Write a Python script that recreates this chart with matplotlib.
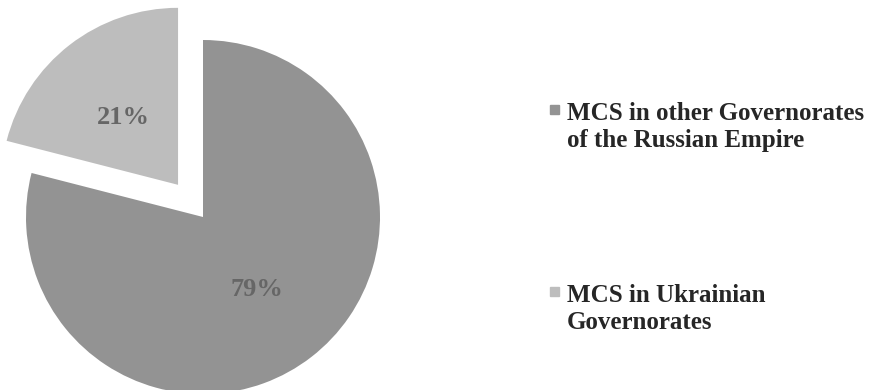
import matplotlib
matplotlib.use("Agg")
import matplotlib.pyplot as plt
from matplotlib.patches import Rectangle

# Data
labels = ["MCS in other Governorates\nof the Russian Empire",
          "MCS in Ukrainian\nGovernorates"]
shares = [79, 21]
colors = ["#939393", "#bdbdbd"]

plt.rcParams["font.family"] = ["Liberation Serif", "DejaVu Serif"]

W, H = 885, 390
fig = plt.figure(figsize=(W / 100, H / 100), dpi=100)
ax = fig.add_axes([0, 0, 1, 1])

# pie centre / radius in pixels
cx, cy, r = 203, 390 - 217, 177

ax.pie(shares, colors=colors, startangle=90, counterclock=False,
       explode=[0, 0.23], autopct="%d%%", pctdistance=0.5,
       wedgeprops=dict(linewidth=0),
       textprops=dict(fontsize=19, fontweight="bold", color="#666666",
                      va="center_baseline"))
ax.set_xlim(-cx / r, (W - cx) / r)
ax.set_ylim(-cy / r, (H - cy) / r)
ax.set_aspect("equal")
ax.axis("off")

# legend, drawn by hand so the marker sits on the first line
first_base = [118, 300]
last_base = [147, 329]
for lab, col, y1, y2 in zip(labels, colors, first_base, last_base):
    fig.text(567 / W, 1 - y2 / H, lab, fontsize=18, fontweight="bold",
             color="#262626", va="baseline", ha="left", linespacing=1.22)
    mid = y1 - 9
    fig.patches.append(Rectangle((550 / W, 1 - (mid + 4.5) / H), 9 / W, 9 / H,
                                 transform=fig.transFigure, color=col))

fig.savefig("out.png", dpi=100)
